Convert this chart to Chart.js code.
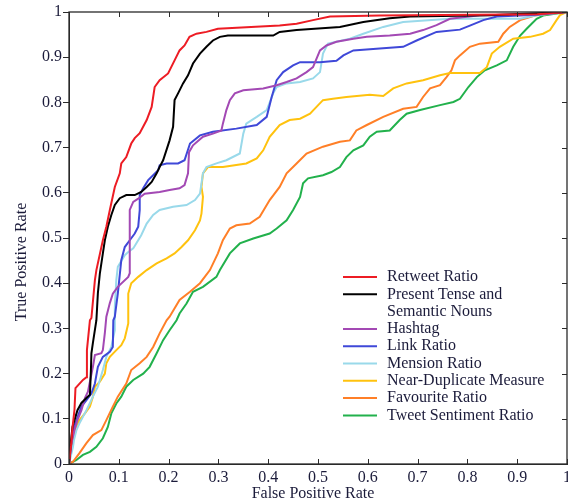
<!DOCTYPE html>
<html>
<head>
<meta charset="utf-8">
<script src="https://cdn.jsdelivr.net/npm/chart.js@4/dist/chart.umd.min.js"></script>
<style>
  body { margin: 0; background: #fff; }
  #chart { display: block; }
</style>
</head>
<body>
<canvas id="chart" width="568" height="504"></canvas>
<script>
// ROC curves, [false positive rate, true positive rate]
const retweet = [[0,0],[0.004,0.04],[0.007,0.08],[0.011,0.12],[0.013,0.168],[0.028,0.186],[0.035,0.192],[0.036,0.252],[0.042,0.318],[0.045,0.323],[0.052,0.407],[0.055,0.429],[0.068,0.495],[0.075,0.525],[0.082,0.562],[0.092,0.613],[0.102,0.643],[0.105,0.665],[0.115,0.679],[0.125,0.709],[0.132,0.721],[0.142,0.732],[0.156,0.761],[0.166,0.79],[0.172,0.834],[0.182,0.849],[0.199,0.864],[0.212,0.893],[0.222,0.915],[0.232,0.926],[0.242,0.945],[0.256,0.952],[0.276,0.956],[0.299,0.963],[0.423,0.97],[0.457,0.974],[0.49,0.982],[0.524,0.99],[0.624,0.992],[0.94,0.995],[1,1]];
const presentTense = [[0,0],[0.003,0.042],[0.007,0.082],[0.017,0.119],[0.025,0.135],[0.035,0.146],[0.042,0.153],[0.044,0.208],[0.045,0.245],[0.048,0.268],[0.055,0.318],[0.058,0.378],[0.062,0.422],[0.068,0.466],[0.072,0.495],[0.078,0.525],[0.085,0.551],[0.092,0.573],[0.102,0.588],[0.115,0.595],[0.132,0.595],[0.145,0.602],[0.156,0.613],[0.166,0.624],[0.176,0.643],[0.182,0.657],[0.189,0.672],[0.202,0.716],[0.209,0.746],[0.212,0.805],[0.219,0.82],[0.229,0.842],[0.239,0.86],[0.249,0.886],[0.263,0.908],[0.276,0.923],[0.289,0.937],[0.303,0.945],[0.319,0.948],[0.41,0.948],[0.423,0.956],[0.457,0.96],[0.544,0.967],[0.591,0.978],[0.644,0.986],[0.685,0.99],[0.845,0.993],[1,1]];
const hashtag = [[0,0],[0.004,0.042],[0.011,0.075],[0.017,0.097],[0.025,0.119],[0.032,0.146],[0.038,0.16],[0.048,0.215],[0.052,0.241],[0.065,0.245],[0.068,0.252],[0.072,0.29],[0.075,0.326],[0.082,0.356],[0.088,0.377],[0.098,0.392],[0.119,0.414],[0.122,0.422],[0.122,0.562],[0.129,0.58],[0.139,0.587],[0.152,0.598],[0.182,0.602],[0.202,0.606],[0.222,0.61],[0.232,0.617],[0.239,0.643],[0.241,0.69],[0.249,0.705],[0.269,0.724],[0.289,0.731],[0.306,0.738],[0.309,0.753],[0.316,0.783],[0.323,0.805],[0.333,0.82],[0.35,0.827],[0.39,0.831],[0.417,0.838],[0.437,0.845],[0.457,0.853],[0.477,0.867],[0.49,0.878],[0.504,0.915],[0.517,0.926],[0.537,0.934],[0.571,0.941],[0.598,0.945],[0.644,0.948],[0.685,0.952],[0.711,0.96],[0.738,0.971],[0.765,0.985],[0.825,0.993],[0.939,0.995],[1,1]];
const linkRatio = [[0,0],[0.005,0.046],[0.008,0.075],[0.015,0.097],[0.025,0.127],[0.035,0.141],[0.045,0.156],[0.052,0.178],[0.058,0.215],[0.068,0.237],[0.082,0.248],[0.088,0.259],[0.089,0.318],[0.092,0.326],[0.098,0.377],[0.105,0.451],[0.112,0.48],[0.122,0.495],[0.132,0.51],[0.139,0.525],[0.142,0.562],[0.142,0.595],[0.149,0.61],[0.159,0.628],[0.169,0.639],[0.179,0.65],[0.182,0.661],[0.196,0.665],[0.219,0.665],[0.232,0.672],[0.243,0.709],[0.263,0.727],[0.289,0.735],[0.336,0.742],[0.377,0.75],[0.397,0.768],[0.407,0.812],[0.417,0.849],[0.43,0.867],[0.45,0.882],[0.464,0.889],[0.504,0.889],[0.537,0.892],[0.551,0.904],[0.571,0.915],[0.624,0.919],[0.671,0.923],[0.698,0.937],[0.738,0.956],[0.785,0.961],[0.805,0.97],[0.832,0.982],[0.859,0.99],[0.939,0.994],[1,1]];
const mension = [[0,0],[0.008,0.038],[0.01,0.053],[0.015,0.075],[0.021,0.09],[0.035,0.119],[0.048,0.149],[0.058,0.171],[0.068,0.208],[0.075,0.237],[0.085,0.259],[0.092,0.296],[0.092,0.348],[0.095,0.407],[0.098,0.436],[0.112,0.462],[0.119,0.469],[0.129,0.477],[0.135,0.488],[0.145,0.506],[0.156,0.532],[0.169,0.551],[0.182,0.562],[0.209,0.569],[0.236,0.573],[0.253,0.584],[0.263,0.598],[0.269,0.643],[0.276,0.657],[0.296,0.665],[0.316,0.672],[0.343,0.687],[0.35,0.731],[0.356,0.753],[0.377,0.768],[0.397,0.783],[0.41,0.82],[0.417,0.834],[0.437,0.842],[0.464,0.845],[0.49,0.853],[0.504,0.867],[0.51,0.908],[0.52,0.93],[0.537,0.934],[0.564,0.941],[0.591,0.952],[0.631,0.967],[0.671,0.978],[0.765,0.985],[0.906,0.985],[0.939,0.993],[1,1]];
const nearDuplicate = [[0,0],[0.005,0.038],[0.011,0.075],[0.021,0.097],[0.032,0.112],[0.042,0.127],[0.048,0.149],[0.052,0.171],[0.062,0.182],[0.072,0.2],[0.075,0.223],[0.082,0.237],[0.095,0.252],[0.105,0.263],[0.112,0.278],[0.119,0.311],[0.119,0.377],[0.125,0.4],[0.139,0.414],[0.156,0.429],[0.176,0.444],[0.196,0.455],[0.212,0.466],[0.226,0.48],[0.239,0.495],[0.253,0.517],[0.263,0.539],[0.266,0.554],[0.269,0.591],[0.266,0.613],[0.269,0.643],[0.279,0.657],[0.309,0.657],[0.356,0.665],[0.377,0.676],[0.39,0.694],[0.403,0.724],[0.423,0.75],[0.443,0.761],[0.464,0.764],[0.484,0.775],[0.497,0.79],[0.51,0.805],[0.53,0.808],[0.557,0.812],[0.604,0.817],[0.631,0.814],[0.651,0.831],[0.678,0.842],[0.711,0.849],[0.745,0.86],[0.765,0.865],[0.825,0.865],[0.839,0.878],[0.849,0.908],[0.865,0.923],[0.892,0.941],[0.926,0.945],[0.952,0.952],[0.966,0.96],[0.979,0.982],[0.986,0.993],[1,1]];
const favourite = [[0,0],[0.008,0.005],[0.021,0.024],[0.035,0.046],[0.048,0.064],[0.065,0.075],[0.075,0.097],[0.088,0.127],[0.098,0.149],[0.115,0.178],[0.125,0.208],[0.142,0.223],[0.156,0.237],[0.169,0.259],[0.182,0.289],[0.196,0.318],[0.202,0.326],[0.222,0.363],[0.243,0.381],[0.263,0.4],[0.283,0.429],[0.299,0.466],[0.309,0.495],[0.323,0.521],[0.336,0.528],[0.363,0.532],[0.383,0.547],[0.403,0.584],[0.423,0.613],[0.437,0.643],[0.457,0.665],[0.477,0.687],[0.51,0.702],[0.544,0.713],[0.564,0.716],[0.577,0.738],[0.598,0.75],[0.631,0.768],[0.671,0.786],[0.698,0.79],[0.711,0.812],[0.725,0.831],[0.745,0.838],[0.758,0.856],[0.768,0.871],[0.775,0.893],[0.785,0.904],[0.805,0.923],[0.825,0.93],[0.862,0.934],[0.872,0.952],[0.885,0.967],[0.906,0.982],[0.939,0.993],[1,1]];
const sentiment = [[0,0],[0.015,0.009],[0.028,0.02],[0.042,0.027],[0.055,0.038],[0.068,0.057],[0.078,0.082],[0.085,0.112],[0.095,0.134],[0.105,0.149],[0.115,0.171],[0.129,0.186],[0.149,0.2],[0.162,0.215],[0.176,0.245],[0.189,0.274],[0.202,0.296],[0.216,0.318],[0.222,0.333],[0.236,0.355],[0.249,0.381],[0.269,0.392],[0.296,0.414],[0.303,0.429],[0.323,0.466],[0.343,0.488],[0.37,0.499],[0.403,0.51],[0.417,0.521],[0.437,0.539],[0.45,0.562],[0.464,0.591],[0.47,0.621],[0.48,0.632],[0.51,0.639],[0.527,0.646],[0.544,0.657],[0.557,0.679],[0.571,0.694],[0.591,0.705],[0.604,0.724],[0.618,0.735],[0.644,0.738],[0.664,0.761],[0.678,0.775],[0.705,0.783],[0.745,0.794],[0.772,0.801],[0.785,0.808],[0.802,0.834],[0.819,0.856],[0.835,0.871],[0.859,0.882],[0.879,0.893],[0.892,0.923],[0.906,0.948],[0.919,0.963],[0.939,0.985],[0.952,0.992],[1,1]];

const seriesNames = ['Retweet Ratio', 'Present Tense and\nSemantic Nouns', 'Hashtag', 'Link Ratio',
  'Mension Ratio', 'Near-Duplicate Measure', 'Favourite Ratio', 'Tweet Sentiment Ratio'];
const seriesData = [retweet, presentTense, hashtag, linkRatio, mension, nearDuplicate, favourite, sentiment];
const colors = ['#ed1c24', '#000000', '#a349b4', '#3f48d8', '#99d9ea', '#ffc20e', '#ff7f27', '#22b14c'];
const tickValues = [0, 0.1, 0.2, 0.3, 0.4, 0.5, 0.6, 0.7, 0.8, 0.9, 1];

const textColor = '#1b1b3a';
const serif = '"Liberation Serif", "Times New Roman", serif';

// box, inward ticks, axis titles and legend
const extras = {
  id: 'extras',
  afterDraw(chart) {
    const { ctx, chartArea: a, scales: { x, y } } = chart;
    ctx.save();
    ctx.strokeStyle = '#2a2a2a';
    ctx.lineWidth = 1.3;
    ctx.strokeRect(a.left, a.top, a.right - a.left, a.bottom - a.top);
    ctx.beginPath();
    x.ticks.forEach(t => {
      const px = Math.round(x.getPixelForValue(t.value)) + 0.5;
      ctx.moveTo(px, a.bottom); ctx.lineTo(px, a.bottom - 5);
      ctx.moveTo(px, a.top); ctx.lineTo(px, a.top + 5);
    });
    y.ticks.forEach(t => {
      const py = Math.round(y.getPixelForValue(t.value)) + 0.5;
      ctx.moveTo(a.right, py); ctx.lineTo(a.right - 5, py);
    });
    ctx.lineWidth = 1;
    ctx.stroke();

    ctx.fillStyle = textColor;
    ctx.font = '16px ' + serif;
    ctx.textAlign = 'center';
    ctx.textBaseline = 'middle';
    ctx.fillText('False Positive Rate', 313, 494);
    ctx.save();
    ctx.translate(22, 262);
    ctx.rotate(-Math.PI / 2);
    ctx.fillText('True Positive Rate', 0, 0);
    ctx.restore();

    // legend
    ctx.textAlign = 'left';
    ctx.font = '16px ' + serif;
    let rowY = 277;
    chart.data.datasets.forEach(ds => {
      ctx.strokeStyle = ds.borderColor;
      ctx.lineWidth = 2;
      ctx.beginPath();
      ctx.moveTo(343, rowY); ctx.lineTo(377, rowY);
      ctx.stroke();
      ds.label.split('\n').forEach(line => {
        ctx.fillText(line, 387, rowY);
        rowY += 17.3;
      });
    });
    ctx.restore();
  }
};

new Chart(document.getElementById('chart'), {
  type: 'line',
  data: {
    datasets: seriesData.map((pts, i) => ({
      label: seriesNames[i],
      data: pts.map(p => ({ x: p[0], y: p[1] })),
      borderColor: colors[i],
      borderWidth: 2,
      pointRadius: 0,
      tension: 0,
      fill: false
    }))
  },
  options: {
    responsive: false,
    animation: false,
    layout: { padding: { top: 12, right: 1, left: 0, bottom: 0 } },
    plugins: { legend: { display: false }, tooltip: { enabled: false } },
    scales: {
      x: {
        type: 'linear', min: 0, max: 1,
        afterFit: s => { s.height = 40; s.paddingRight = 0; s.paddingLeft = 0; },
        afterBuildTicks: s => { s.ticks = tickValues.map(v => ({ value: v })); },
        grid: { drawOnChartArea: false, drawTicks: false },
        border: { color: '#2a2a2a' },
        ticks: { color: textColor, font: { family: serif, size: 16 }, padding: 4, maxRotation: 0,
          callback: v => String(v) }
      },
      y: {
        type: 'linear', min: 0, max: 1,
        afterFit: s => { s.width = 69; },
        afterBuildTicks: s => { s.ticks = tickValues.map(v => ({ value: v })); },
        grid: { drawOnChartArea: false, drawTicks: true, tickLength: 6, color: '#2a2a2a' },
        border: { color: '#2a2a2a' },
        ticks: { color: textColor, font: { family: serif, size: 16 }, padding: 1,
          callback: v => String(v) }
      }
    }
  },
  plugins: [extras]
});
</script>
</body>
</html>
